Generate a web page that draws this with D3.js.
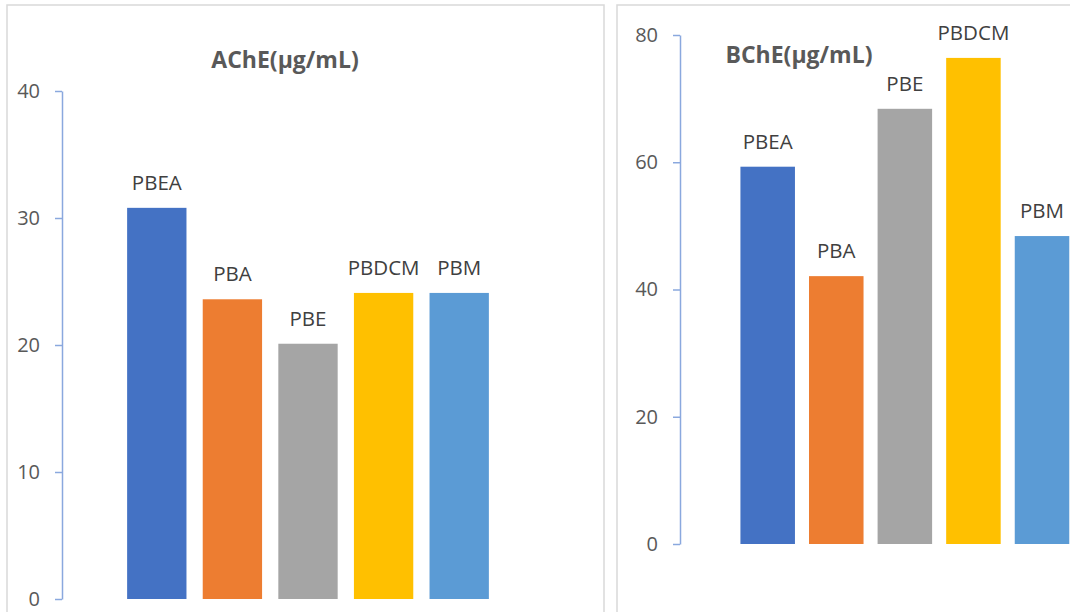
<!DOCTYPE html>
<html>
<head>
<meta charset="utf-8">
<script src="https://cdn.jsdelivr.net/npm/d3@7"></script>
<style>
  html, body { margin: 0; padding: 0; background: #ffffff; }
  svg { display: block; }
</style>
</head>
<body>
<svg id="chart" width="1070" height="612"></svg>
<script>
// Extract samples
const categories = ["PBEA", "PBA", "PBE", "PBDCM", "PBM"];
const barColors = ["#4472C4", "#ED7D31", "#A5A5A5", "#FFC000", "#5B9BD5"];

// AChE values (μg/mL)
const acheValues = [30.8, 23.6, 20.1, 24.1, 24.1];
const acheTicks = [0, 10, 20, 30, 40];

// BChE values (μg/mL)
const bcheValues = [59.3, 42.1, 68.4, 76.4, 48.4];
const bcheTicks = [0, 20, 40, 60, 80];

const svg = d3.select("#chart");
const FONT = "'Open Sans', 'Noto Sans', sans-serif";

// Panel frames
svg.append("rect").attr("x", 7).attr("y", 5).attr("width", 597).attr("height", 640)
  .attr("fill", "#ffffff").attr("stroke", "#d9d9d9").attr("stroke-width", 1.5);
svg.append("rect").attr("x", 617).attr("y", 5).attr("width", 500).attr("height", 640)
  .attr("fill", "#ffffff").attr("stroke", "#d9d9d9").attr("stroke-width", 1.5);

function drawPanel(opt) {
  const g = svg.append("g");
  const data = categories.map((c, i) => ({ name: c, value: opt.values[i], color: barColors[i] }));

  const x = d3.scaleBand()
    .domain(categories)
    .range(opt.xRange)
    .paddingInner(opt.pad)
    .paddingOuter(opt.pad / 2);

  const y = d3.scaleLinear()
    .domain([0, opt.ticks[opt.ticks.length - 1]])
    .range(opt.yRange);

  // Value axis
  const axis = d3.axisLeft(y)
    .tickValues(opt.ticks)
    .tickSize(7)
    .tickSizeOuter(0)
    .tickPadding(15)
    .tickFormat(d3.format("d"));

  const ax = g.append("g")
    .attr("transform", `translate(${opt.axisX},0)`)
    .call(axis);
  ax.select(".domain").attr("stroke", "#8aa8de").attr("stroke-width", 1.5);
  ax.selectAll(".tick line").attr("stroke", "#8aa8de").attr("stroke-width", 1.5);
  ax.selectAll(".tick text")
    .attr("fill", "#595959")
    .style("font-family", FONT)
    .style("font-size", "20px");

  // Bars
  g.selectAll("rect.bar")
    .data(data)
    .enter().append("rect")
    .attr("class", "bar")
    .attr("x", d => x(d.name))
    .attr("width", x.bandwidth())
    .attr("y", d => y(d.value))
    .attr("height", d => y(0) - y(d.value))
    .attr("fill", d => d.color);

  // Category labels above bars
  g.selectAll("text.lbl")
    .data(data)
    .enter().append("text")
    .attr("class", "lbl")
    .attr("x", d => x(d.name) + x.bandwidth() / 2)
    .attr("y", d => y(d.value) - 18)
    .attr("text-anchor", "middle")
    .attr("fill", "#404040")
    .style("font-family", FONT)
    .style("font-size", "20.5px")
    .text(d => d.name);

  // Title
  g.append("text")
    .attr("x", opt.titleX)
    .attr("y", opt.titleY)
    .attr("text-anchor", "middle")
    .attr("fill", "#595959")
    .style("font-family", FONT)
    .style("font-size", "23px")
    .style("font-weight", "bold")
    .text(opt.title);
}

drawPanel({
  values: acheValues, ticks: acheTicks,
  xRange: [119.0, 497.0], pad: 0.215,
  yRange: [599, 91], axisX: 62,
  title: "AChE(μg/mL)", titleX: 285, titleY: 68
});

drawPanel({
  values: bcheValues, ticks: bcheTicks,
  xRange: [733.4, 1076.3], pad: 0.205,
  yRange: [544, 35], axisX: 680,
  title: "BChE(μg/mL)", titleX: 799, titleY: 63
});
</script>
</body>
</html>
